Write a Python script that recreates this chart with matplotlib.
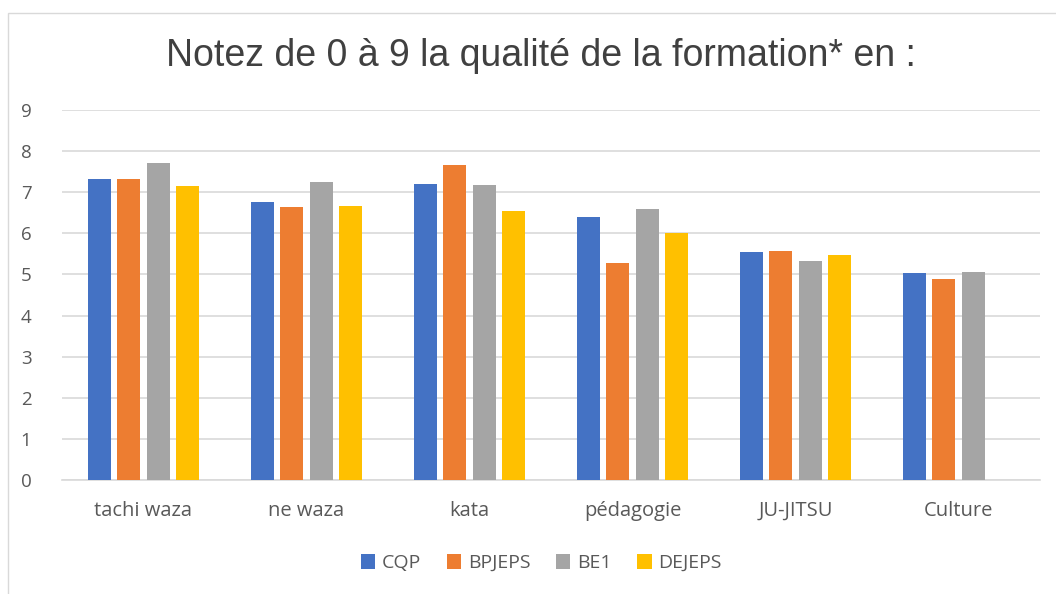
import numpy as np
import matplotlib.pyplot as plt
from matplotlib.patches import Rectangle

categories = ['tachi waza', 'ne waza', 'kata', 'pédagogie', 'JU-JITSU', 'Culture']
series = ['CQP', 'BPJEPS', 'BE1', 'DEJEPS']
cqp = [7.31, 6.77, 7.19, 6.39, 5.54, 5.03]
bpjeps = [7.33, 6.63, 7.66, 5.29, 5.57, 4.88]
be1 = [7.71, 7.24, 7.17, 6.60, 5.32, 5.05]
dejeps = [7.16, 6.67, 6.54, 6.01, 5.48, 0]
colors = ['#4472C4', '#ED7D31', '#A5A5A5', '#FFC000']

plt.rcParams['font.family'] = ['Open Sans', 'DejaVu Sans']

fig = plt.figure(figsize=(10.56, 5.94), dpi=100)
# outer chart frame
fig.patches.append(Rectangle((8 / 1056, -0.1), 1.2, 1.1 - 13 / 594,
                             transform=fig.transFigure, fill=False,
                             edgecolor='#D9D9D9', linewidth=1))
ax = fig.add_axes([62 / 1056, 1 - 480 / 594, (1040 - 62) / 1056, 370 / 594])

x = np.arange(len(categories))
slot = 0.181
for i, (name, vals) in enumerate(zip(series, [cqp, bpjeps, be1, dejeps])):
    ax.bar(x + (i - 1.5) * slot, vals, width=0.143, color=colors[i], label=name, zorder=3)

ax.set_xlim(-0.5, len(categories) - 0.5)
ax.set_ylim(0, 9)
ax.set_yticks(range(10))
ax.set_xticks(x)
ax.set_xticklabels(categories)
ax.tick_params(axis='both', length=0, colors='#595959')
ax.tick_params(axis='x', pad=15, labelsize=14.5)
ax.tick_params(axis='y', pad=22, labelsize=13.5)
ax.grid(axis='y', color='#D9D9D9', linewidth=1.2, zorder=0)
for s in ['top', 'right', 'left']:
    ax.spines[s].set_visible(False)
ax.spines['bottom'].set_color('#D9D9D9')
ax.spines['bottom'].set_linewidth(1.2)

fig.text(0.512, 1 - 56 / 594, 'Notez de 0 à 9 la qualité de la formation* en :',
         ha='center', va='center', fontsize=27, color='#404040',
         family=['Liberation Sans', 'DejaVu Sans'])

ax.legend(loc='center', bbox_to_anchor=(0.49, -0.225), ncol=4, frameon=False,
          fontsize=14, labelcolor='#595959', handlelength=0.75, handleheight=0.75,
          handletextpad=0.35, columnspacing=1.3)

fig.savefig('out.png', dpi=100)
